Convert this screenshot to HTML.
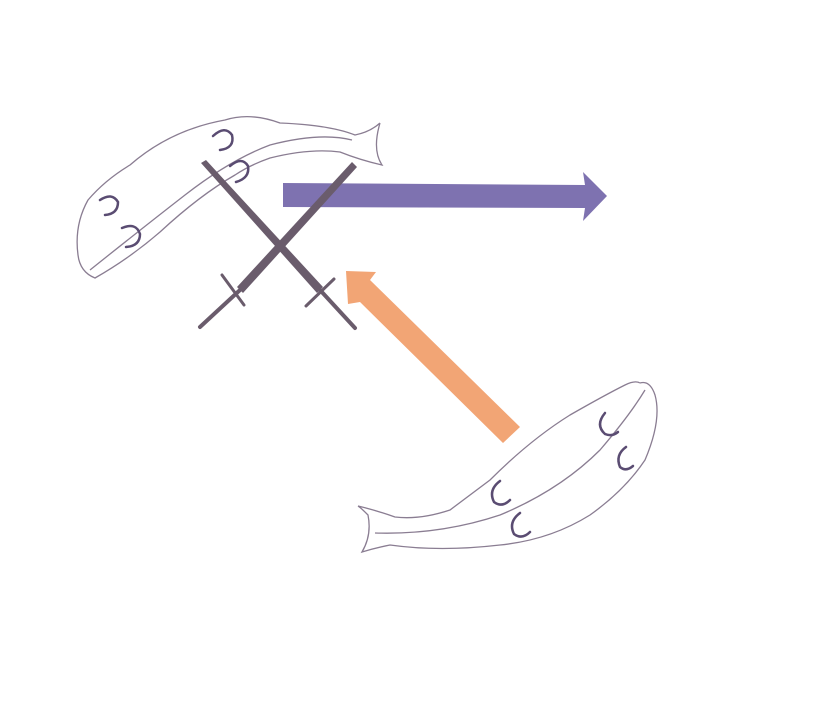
<!DOCTYPE html>
<html><head><meta charset="utf-8"><style>html,body{margin:0;padding:0;background:#fff;width:832px;height:712px;overflow:hidden}</style></head>
<body>
<svg width="832" height="712" viewBox="0 0 832 712" xmlns="http://www.w3.org/2000/svg">
<g fill="none" stroke="#8a7d92" stroke-width="1.3">
<path d="M380,123 Q370,132 355,135 Q330,125 280,123 Q250,112 225,120 Q170,130 130,165 Q105,180 88,200 Q74,225 78,255 Q80,272 95,278 Q130,258 160,232 Q200,195 235,175 Q250,165 270,158 Q310,148 340,152 Q360,160 382,165 Q372,150 380,123"/>
<path d="M90,270 Q140,230 185,195 Q230,160 270,145 Q320,132 352,140"/>
<path d="M640,383 Q650,380 655,395 Q662,420 645,460 Q625,490 590,515 Q550,540 500,545 Q440,552 390,545 Q375,548 362,552 Q372,535 368,515 Q360,507 358,506 Q375,510 395,517 Q420,520 450,510 Q470,495 490,480 Q530,440 570,415 Q605,395 625,385 Q635,380 640,383"/>
<path d="M375,533 Q440,535 500,515 Q560,490 600,450 Q630,415 645,390"/>
</g>
<g fill="none" stroke="#5a4c72" stroke-width="2.5" stroke-linecap="round">
<path d="M213,136 Q225,125 232,135 Q235,148 220,150"/>
<path d="M230,166 Q242,156 248,166 Q250,178 236,182"/>
<path d="M100,200 Q112,192 118,202 Q118,214 105,215"/>
<path d="M122,228 Q136,222 140,234 Q140,246 126,247"/>
<path d="M605,413 Q595,425 605,434 Q612,437 618,432"/>
<path d="M626,447 Q615,455 620,467 Q626,472 633,466"/>
<path d="M500,481 Q488,490 494,502 Q502,508 510,500"/>
<path d="M520,513 Q508,522 514,534 Q522,540 530,532"/>
</g>
<polygon points="283,183 585,185 583,172 607,196 583,221 585,208 283,207" fill="#7e72b0"/>
<g fill="#6a5c6c">
<polygon points="201,163 206,160 323,287 317,293"/>
<polygon points="352,162 357,167 243,293 237,287"/>
</g>
<g stroke="#6a5c6c" stroke-linecap="round">
<line x1="320" y1="290" x2="355" y2="328" stroke-width="4"/>
<line x1="240" y1="290" x2="200" y2="327" stroke-width="4"/>
<line x1="306" y1="306" x2="334" y2="279" stroke-width="3"/>
<line x1="222" y1="275" x2="244" y2="305" stroke-width="3"/>
</g>
<polygon points="346,271 376,272 370,280 520,427 503,443 360,302 348,304" fill="#f2a575"/>
</svg>
</body></html>
